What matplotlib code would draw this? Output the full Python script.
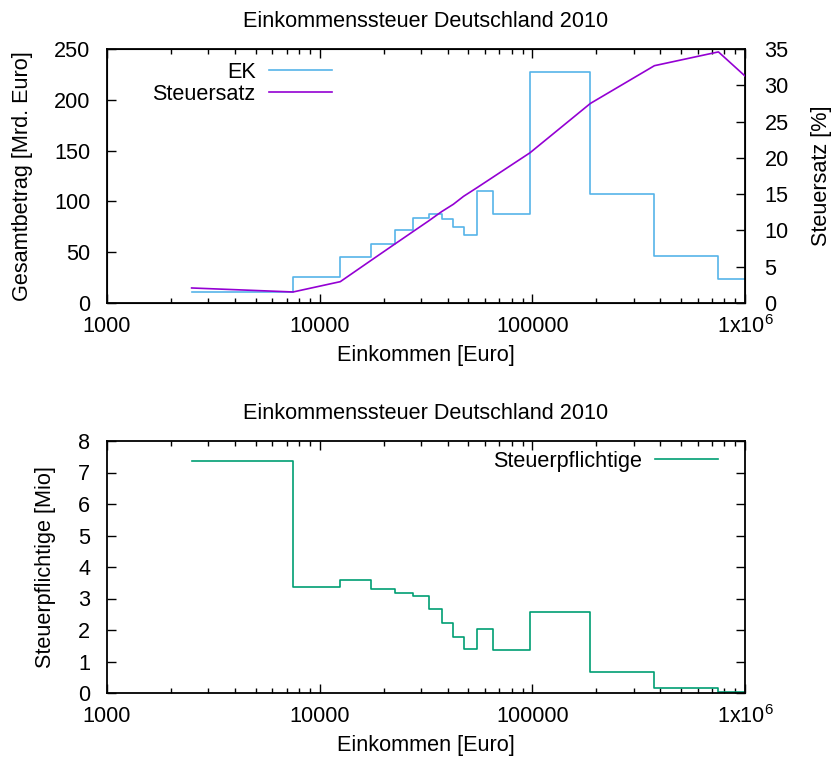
import numpy as np
import matplotlib
matplotlib.use('Agg')
import matplotlib.pyplot as plt
from matplotlib.ticker import FixedLocator, LogLocator, NullFormatter

plt.rcParams['font.family'] = ['Liberation Sans', 'DejaVu Sans']
plt.rcParams['font.size'] = 15.6
plt.rcParams['mathtext.fontset'] = 'custom'
plt.rcParams['mathtext.rm'] = 'Liberation Sans'
plt.rcParams['mathtext.default'] = 'regular'

# Einkommensklassen (Euro), letzter Punkt liegt rechts ausserhalb der Achse
einkommen = [2500, 7500, 12500, 17500, 22500, 27500, 32500, 37500, 42500,
             47500, 55000, 65000, 97500, 187500, 375000, 750000, 1500000]
# Gesamtbetrag der Einkuenfte [Mrd. Euro]
ek = [10.5, 26, 45, 57.8, 71.5, 84, 87.3, 82.4, 74.8,
      66.9, 110.5, 87.6, 227.7, 107.3, 46.6, 23.6, 20]
# Durchschnittlicher Steuersatz [%]
steuersatz = [2.07, 1.52, 2.94, 5.9, 8.1, 9.85, 11.3, 12.6, 13.6,
              14.7, 15.9, 17.3, 20.7, 27.5, 32.7, 34.6, 26.6]
# Steuerpflichtige [Mio]
pflichtige = [7.36, 3.36, 3.59, 3.29, 3.16, 3.07, 2.68, 2.21, 1.77,
              1.41, 2.02, 1.35, 2.56, 0.66, 0.15, 0.04, 0.03]

xticks = [1e3, 1e4, 1e5, 1e6]
xticklabels = ['1000', '10000', '100000', '1x10$^{6}$']
titel = 'Einkommenssteuer Deutschland 2010'

c_ek = '#56b4e9'
c_satz = '#9400d3'
c_pfl = '#009e73'

fig = plt.figure(figsize=(8.39, 7.63), dpi=100)
ax1 = fig.add_axes([107/839, 1-303/763, 638/839, 254/763])
ax3 = fig.add_axes([107/839, 1-693/763, 638/839, 252/763])


def style_xaxis(ax):
    ax.set_xscale('log')
    ax.set_xlim(1e3, 1e6)
    ax.xaxis.set_major_locator(FixedLocator(xticks))
    ax.set_xticklabels(xticklabels)
    ax.xaxis.set_minor_locator(LogLocator(base=10, subs=np.arange(2, 10)))
    ax.xaxis.set_minor_formatter(NullFormatter())
    ax.tick_params(axis='x', which='both', direction='in', top=True, pad=9)
    ax.tick_params(which='major', length=6.5, width=1)
    ax.tick_params(which='minor', length=3.5, width=1)
    ax.set_xlabel('Einkommen [Euro]', labelpad=5)
    ax.set_title(titel, pad=16, fontsize=15.6)
    for s in ax.spines.values():
        s.set_linewidth(1.3)


# oberes Diagramm
ln1, = ax1.step(einkommen, ek, where='post', color=c_ek, lw=1.2, label='EK')
ax1.set_ylim(0, 250)
ax1.set_yticks(np.arange(0, 251, 50))
ax1.tick_params(axis='y', direction='in', pad=12)
ax1.set_ylabel('Gesamtbetrag [Mrd. Euro]', labelpad=15)
style_xaxis(ax1)

ax2 = ax1.twinx()
ln2, = ax2.plot(einkommen, steuersatz, color=c_satz, lw=1.2, label='Steuersatz')
ax2.set_ylim(0, 35)
ax2.set_yticks(np.arange(0, 36, 5))
ax2.tick_params(axis='y', direction='in', length=6.5, width=1, pad=14)
ax2.set_ylabel('Steuersatz [%]', labelpad=16)
ax2.set_xlim(1e3, 1e6)

ax2.legend([ln1, ln2], ['EK', 'Steuersatz'], loc='upper right',
           bbox_to_anchor=(0.352, 0.95), frameon=False, markerfirst=False,
           handlelength=2.9, handletextpad=0.6, labelspacing=0.05,
           borderpad=0, borderaxespad=0)

# unteres Diagramm
ln3, = ax3.step(einkommen, pflichtige, where='post', color=c_pfl, lw=1.2,
                label='Steuerpflichtige')
ax3.set_ylim(0, 8)
ax3.set_yticks(np.arange(0, 9, 1))
ax3.tick_params(axis='y', direction='in', right=True, pad=12)
ax3.set_ylabel('Steuerpflichtige [Mio]', labelpad=16)
style_xaxis(ax3)
ax3.legend(loc='upper right', bbox_to_anchor=(0.958, 0.96), frameon=False,
           markerfirst=False, handlelength=2.9, handletextpad=0.6,
           borderpad=0, borderaxespad=0)

fig.savefig('out.png', dpi=100)
